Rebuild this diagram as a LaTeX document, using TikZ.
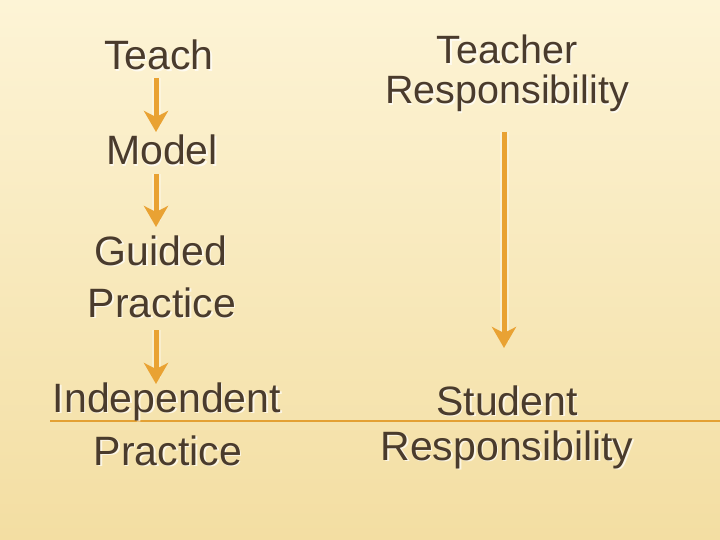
\documentclass[tikz,border=0pt]{standalone}
\usepackage{fontspec}
\setmainfont{Liberation Sans}
\usetikzlibrary{arrows.meta,calc}
\definecolor{txt}{HTML}{4A3B2C}
\definecolor{arrc}{HTML}{E9A233}
\definecolor{rulec}{HTML}{E3A134}
\definecolor{bgtop}{HTML}{FDF4D6}
\definecolor{bgbot}{HTML}{F3DEA2}
\tikzset{
  lbl/.style={inner sep=0pt, anchor=base, text=txt, font=\fontsize{41}{49}\selectfont},
  lblsm/.style={lbl, font=\fontsize{39.5}{47}\selectfont},
  shad/.style={text=white, opacity=0.7},
  arr/.style={draw=arrc, line width=5pt, -{Stealth[length=21pt,width=24pt,inset=6pt]}},
  halo/.style={draw=white, opacity=0.35, line width=9pt}
}
\newcommand\lbltext[4]{%
  \node[#1,shad] at ($(#2)+(1.6,1.6)$) {#4};
  \node[#1] (#3) at (#2) {#4};}
\begin{document}
\begin{tikzpicture}[x=1pt,y=-1pt]
\useasboundingbox (0,0) rectangle (720,540);
\shade[top color=bgtop, bottom color=bgbot] (0,0) rectangle (720,540);
% rule
\coordinate (rl) at (50,421);
\coordinate (rr) at (720,421);
\draw[rulec, line width=1.2pt] (rl) -- (rr);
% left column
\lbltext{lbl}{159,70}{teach}{Teach}
\lbltext{lbl}{162,165}{model}{Model}
\lbltext{lbl}{161,265}{guided}{Guided}
\lbltext{lbl}{162,317}{guided2}{Practice}
\lbltext{lbl}{167,412}{indep}{Independent}
\lbltext{lbl}{168,465}{indep2}{Practice}
% right column
\lbltext{lblsm}{507,64}{teacher}{Teacher}
\lbltext{lblsm}{507,104}{teacher2}{Responsibility}
\lbltext{lbl}{507,415}{student}{Student}
\lbltext{lbl}{507,460}{student2}{Responsibility}
% arrows
\coordinate (a1s) at (156,78);  \coordinate (a1e) at (156,132);
\coordinate (a2s) at (156,174); \coordinate (a2e) at (156,227);
\coordinate (a3s) at (156,330); \coordinate (a3e) at (156,384);
\coordinate (a4s) at (504,132); \coordinate (a4e) at (504,348);
\foreach \s/\e in {a1s/a1e,a2s/a2e,a3s/a3e,a4s/a4e}{
  \draw[halo] (\s) -- ($(\e)+(0,-6)$);
  \draw[arr] (\s) -- (\e);
}
\end{tikzpicture}
\end{document}
